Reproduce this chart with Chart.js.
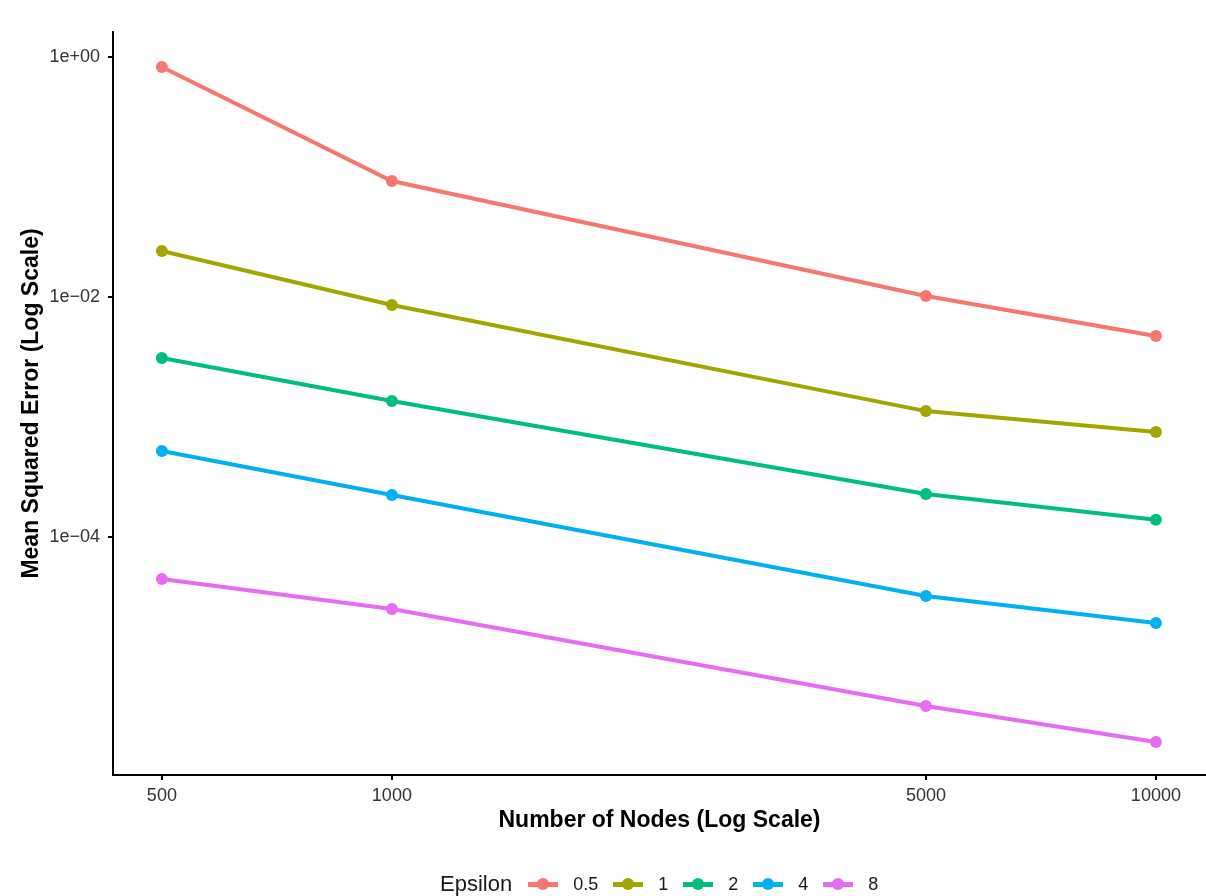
<!DOCTYPE html>
<html>
<head>
<meta charset="utf-8">
<script src="https://cdn.jsdelivr.net/npm/chart.js@4"></script>
<style>
  html, body { margin: 0; padding: 0; background: #fff; overflow: hidden; }
  #wrap { position: relative; width: 1206px; height: 896px; }
  #legend {
    position: absolute; left: 440px; top: 870px; height: 28px;
    display: flex; align-items: center;
    font-family: "Liberation Sans", Arial, sans-serif; color: #1a1a1a;
  }
  #legend .title { font-size: 22px; margin-right: 16px; }
  #legend .glyph { position: relative; width: 30px; height: 12px; margin-right: 15px; }
  #legend .glyph .ln { position: absolute; left: 0; right: 0; top: 3.5px; height: 5px; }
  #legend .glyph .dt { position: absolute; left: 9px; top: 0; width: 12px; height: 12px; border-radius: 50%; }
  #legend .lab { font-size: 18px; margin-right: 15px; }
</style>
</head>
<body>
<div id="wrap">
  <canvas id="mseChart" width="1206" height="896"></canvas>
  <div id="legend"></div>
</div>
<script>
(function () {
    const nodes = [500, 1000, 5000, 10000];
    const epsilons = ['0.5', '1', '2', '4', '8'];
    const mseEps05 = [0.825, 0.0926, 0.0102, 0.00473];
    const mseEps1 = [0.0242, 0.00858, 0.00112, 0.00075];
    const mseEps2 = [0.0031, 0.00136, 0.000228, 0.000139];
    const mseEps4 = [0.000521, 0.000224, 0.0000322, 0.0000192];
    const mseEps8 = [0.0000447, 0.0000251, 0.00000391, 0.00000196];
    const colors = ['#F8766D', '#A3A500', '#00BF7D', '#00B0F6', '#E76BF3'];

    const xTicks = [500, 1000, 5000, 10000];
    const xTickLabels = ['500', '1000', '5000', '10000'];
    const yTicks = [1, 0.01, 0.0001];
    const yTickLabels = ['1e+00', '1e\u221202', '1e\u221204'];

    const series = [mseEps05, mseEps1, mseEps2, mseEps4, mseEps8];
    const font = '"Liberation Sans", Arial, sans-serif';

    const datasets = series.map((vals, i) => ({
        label: epsilons[i],
        data: nodes.map((n, j) => ({ x: n, y: vals[j] })),
        borderColor: colors[i],
        backgroundColor: colors[i],
        borderWidth: 4,
        pointRadius: 6,
        pointHoverRadius: 6,
        pointBorderWidth: 0,
        tension: 0,
    }));

    const axisCommon = {
        type: 'logarithmic',
        grid: { drawOnChartArea: false, drawTicks: true, tickLength: 5, color: '#000', lineWidth: 2 },
        border: { display: true, color: '#000', width: 2 },
    };

    new Chart(document.getElementById('mseChart'), {
        type: 'line',
        data: { datasets },
        options: {
            responsive: false,
            animation: false,
            layout: { autoPadding: false, padding: { top: 32, right: 0, left: 0, bottom: 61 } },
            plugins: { legend: { display: false }, tooltip: { enabled: false } },
            scales: {
                x: {
                    ...axisCommon,
                    min: 431.5,
                    max: 11630,
                    afterFit: (s) => { s.height = 60; s.paddingLeft = 0; s.paddingRight = 0; },
                    afterBuildTicks: (s) => { s.ticks = xTicks.map((v) => ({ value: v })); },
                    ticks: {
                        autoSkip: false, maxRotation: 0, padding: 5,
                        color: '#333', font: { family: font, size: 18 },
                        callback: (v, i) => xTickLabels[i],
                    },
                    title: {
                        display: true, text: 'Number of Nodes (Log Scale)', color: '#000',
                        font: { family: font, size: 23, weight: 'bold' },
                        padding: { top: 0, bottom: 1 },
                    },
                },
                y: {
                    ...axisCommon,
                    min: 1.04e-6,
                    max: 1.615,
                    afterFit: (s) => { s.width = 113; s.paddingTop = 0; s.paddingBottom = 0; },
                    afterBuildTicks: (s) => { s.ticks = yTicks.map((v) => ({ value: v })); },
                    ticks: {
                        autoSkip: false, padding: 8,
                        color: '#333', font: { family: font, size: 18 },
                        callback: (v, i) => yTickLabels[i],
                    },
                    title: {
                        display: true, text: 'Mean Squared Error (Log Scale)', color: '#000',
                        font: { family: font, size: 23, weight: 'bold' },
                        padding: { top: 18, bottom: 0 },
                    },
                },
            },
        },
    });

    // ggplot style legend: title inline, line+dot keys
    const legend = document.getElementById('legend');
    const title = document.createElement('span');
    title.className = 'title';
    title.textContent = 'Epsilon';
    legend.appendChild(title);
    epsilons.forEach((eps, i) => {
        const glyph = document.createElement('span');
        glyph.className = 'glyph';
        glyph.innerHTML = '<span class="ln" style="background:' + colors[i] + '"></span>' +
            '<span class="dt" style="background:' + colors[i] + '"></span>';
        legend.appendChild(glyph);
        const lab = document.createElement('span');
        lab.className = 'lab';
        lab.textContent = eps;
        legend.appendChild(lab);
    });
})();
</script>
</body>
</html>
